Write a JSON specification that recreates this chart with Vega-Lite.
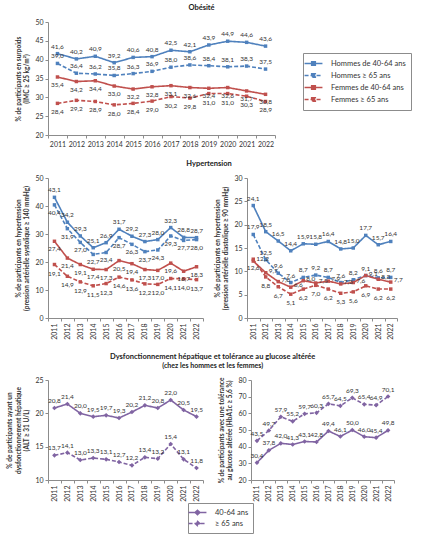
{
"$schema":"https://vega.github.io/schema/vega-lite/v6.json",
"padding":{"left":6,"top":3,"right":5,"bottom":5},
"config":{
 "font":"Lato",
 "locale":{"number":{"decimal":",","thousands":" ","grouping":[3],"currency":["","€"]}},
 "view":{"stroke":null},
 "axis":{"grid":false,"domainColor":"#8c8c8c","tickColor":"#8c8c8c","labelFontSize":7,"labelColor":"#333","titleFontSize":6.5,"titleFontWeight":"bold","titleColor":"#333","tickSize":3,"labelPadding":2,"titlePadding":5},
 "title":{"fontSize":7.5,"fontWeight":"bold","color":"#222","offset":7},
 "legend":{"labelFontSize":7.5,"labelColor":"#333"},
 "text":{"fontSize":6.5,"color":"#333"}
},
"datasets":{
"obesite":[
{"annee":"2011","groupe":"Hommes de 40-64 ans","valeur":41.6},{"annee":"2012","groupe":"Hommes de 40-64 ans","valeur":40.2},{"annee":"2013","groupe":"Hommes de 40-64 ans","valeur":40.9},{"annee":"2014","groupe":"Hommes de 40-64 ans","valeur":39.2},{"annee":"2015","groupe":"Hommes de 40-64 ans","valeur":40.6},{"annee":"2016","groupe":"Hommes de 40-64 ans","valeur":40.8},{"annee":"2017","groupe":"Hommes de 40-64 ans","valeur":42.5},{"annee":"2018","groupe":"Hommes de 40-64 ans","valeur":42.1},{"annee":"2019","groupe":"Hommes de 40-64 ans","valeur":43.9},{"annee":"2020","groupe":"Hommes de 40-64 ans","valeur":44.9},{"annee":"2021","groupe":"Hommes de 40-64 ans","valeur":44.6},{"annee":"2022","groupe":"Hommes de 40-64 ans","valeur":43.6},
{"annee":"2011","groupe":"Hommes ≥ 65 ans","valeur":39.0},{"annee":"2012","groupe":"Hommes ≥ 65 ans","valeur":36.4},{"annee":"2013","groupe":"Hommes ≥ 65 ans","valeur":36.2},{"annee":"2014","groupe":"Hommes ≥ 65 ans","valeur":35.8},{"annee":"2015","groupe":"Hommes ≥ 65 ans","valeur":36.3},{"annee":"2016","groupe":"Hommes ≥ 65 ans","valeur":36.9},{"annee":"2017","groupe":"Hommes ≥ 65 ans","valeur":38.0},{"annee":"2018","groupe":"Hommes ≥ 65 ans","valeur":38.6},{"annee":"2019","groupe":"Hommes ≥ 65 ans","valeur":38.4},{"annee":"2020","groupe":"Hommes ≥ 65 ans","valeur":38.1},{"annee":"2021","groupe":"Hommes ≥ 65 ans","valeur":38.3},{"annee":"2022","groupe":"Hommes ≥ 65 ans","valeur":37.5},
{"annee":"2011","groupe":"Femmes de 40-64 ans","valeur":35.4},{"annee":"2012","groupe":"Femmes de 40-64 ans","valeur":34.2},{"annee":"2013","groupe":"Femmes de 40-64 ans","valeur":34.4},{"annee":"2014","groupe":"Femmes de 40-64 ans","valeur":33.0},{"annee":"2015","groupe":"Femmes de 40-64 ans","valeur":32.2},{"annee":"2016","groupe":"Femmes de 40-64 ans","valeur":32.8},{"annee":"2017","groupe":"Femmes de 40-64 ans","valeur":33.1},{"annee":"2018","groupe":"Femmes de 40-64 ans","valeur":32.6},{"annee":"2019","groupe":"Femmes de 40-64 ans","valeur":32.4},{"annee":"2020","groupe":"Femmes de 40-64 ans","valeur":32.6},{"annee":"2021","groupe":"Femmes de 40-64 ans","valeur":31.7},{"annee":"2022","groupe":"Femmes de 40-64 ans","valeur":30.8},
{"annee":"2011","groupe":"Femmes ≥ 65 ans","valeur":28.4},{"annee":"2012","groupe":"Femmes ≥ 65 ans","valeur":29.2},{"annee":"2013","groupe":"Femmes ≥ 65 ans","valeur":28.9},{"annee":"2014","groupe":"Femmes ≥ 65 ans","valeur":28.0},{"annee":"2015","groupe":"Femmes ≥ 65 ans","valeur":28.4},{"annee":"2016","groupe":"Femmes ≥ 65 ans","valeur":29.0},{"annee":"2017","groupe":"Femmes ≥ 65 ans","valeur":30.2},{"annee":"2018","groupe":"Femmes ≥ 65 ans","valeur":29.8},{"annee":"2019","groupe":"Femmes ≥ 65 ans","valeur":31.0},{"annee":"2020","groupe":"Femmes ≥ 65 ans","valeur":31.0},{"annee":"2021","groupe":"Femmes ≥ 65 ans","valeur":30.3},{"annee":"2022","groupe":"Femmes ≥ 65 ans","valeur":28.9}
],
"systolique":[
{"annee":"2011","groupe":"Hommes de 40-64 ans","valeur":43.1},{"annee":"2012","groupe":"Hommes de 40-64 ans","valeur":34.2},{"annee":"2013","groupe":"Hommes de 40-64 ans","valeur":29.3},{"annee":"2014","groupe":"Hommes de 40-64 ans","valeur":25.1},{"annee":"2015","groupe":"Hommes de 40-64 ans","valeur":26.9},{"annee":"2016","groupe":"Hommes de 40-64 ans","valeur":31.7},{"annee":"2017","groupe":"Hommes de 40-64 ans","valeur":29.2},{"annee":"2018","groupe":"Hommes de 40-64 ans","valeur":27.3},{"annee":"2019","groupe":"Hommes de 40-64 ans","valeur":28.0},{"annee":"2020","groupe":"Hommes de 40-64 ans","valeur":32.3},{"annee":"2021","groupe":"Hommes de 40-64 ans","valeur":28.8},{"annee":"2022","groupe":"Hommes de 40-64 ans","valeur":28.7},
{"annee":"2011","groupe":"Hommes ≥ 65 ans","valeur":40.4},{"annee":"2012","groupe":"Hommes ≥ 65 ans","valeur":31.9},{"annee":"2013","groupe":"Hommes ≥ 65 ans","valeur":27.0},{"annee":"2014","groupe":"Hommes ≥ 65 ans","valeur":22.7},{"annee":"2015","groupe":"Hommes ≥ 65 ans","valeur":23.4},{"annee":"2016","groupe":"Hommes ≥ 65 ans","valeur":28.7},{"annee":"2017","groupe":"Hommes ≥ 65 ans","valeur":26.3},{"annee":"2018","groupe":"Hommes ≥ 65 ans","valeur":23.7},{"annee":"2019","groupe":"Hommes ≥ 65 ans","valeur":24.3},{"annee":"2020","groupe":"Hommes ≥ 65 ans","valeur":29.3},{"annee":"2021","groupe":"Hommes ≥ 65 ans","valeur":27.7},{"annee":"2022","groupe":"Hommes ≥ 65 ans","valeur":28.0},
{"annee":"2011","groupe":"Femmes de 40-64 ans","valeur":27.4},{"annee":"2012","groupe":"Femmes de 40-64 ans","valeur":21.4},{"annee":"2013","groupe":"Femmes de 40-64 ans","valeur":19.1},{"annee":"2014","groupe":"Femmes de 40-64 ans","valeur":17.4},{"annee":"2015","groupe":"Femmes de 40-64 ans","valeur":17.3},{"annee":"2016","groupe":"Femmes de 40-64 ans","valeur":20.5},{"annee":"2017","groupe":"Femmes de 40-64 ans","valeur":19.4},{"annee":"2018","groupe":"Femmes de 40-64 ans","valeur":17.3},{"annee":"2019","groupe":"Femmes de 40-64 ans","valeur":17.0},{"annee":"2020","groupe":"Femmes de 40-64 ans","valeur":19.6},{"annee":"2021","groupe":"Femmes de 40-64 ans","valeur":16.7},{"annee":"2022","groupe":"Femmes de 40-64 ans","valeur":18.3},
{"annee":"2011","groupe":"Femmes ≥ 65 ans","valeur":19.1},{"annee":"2012","groupe":"Femmes ≥ 65 ans","valeur":14.9},{"annee":"2013","groupe":"Femmes ≥ 65 ans","valeur":12.9},{"annee":"2014","groupe":"Femmes ≥ 65 ans","valeur":11.5},{"annee":"2015","groupe":"Femmes ≥ 65 ans","valeur":12.3},{"annee":"2016","groupe":"Femmes ≥ 65 ans","valeur":14.6},{"annee":"2017","groupe":"Femmes ≥ 65 ans","valeur":13.6},{"annee":"2018","groupe":"Femmes ≥ 65 ans","valeur":12.2},{"annee":"2019","groupe":"Femmes ≥ 65 ans","valeur":12.0},{"annee":"2020","groupe":"Femmes ≥ 65 ans","valeur":14.1},{"annee":"2021","groupe":"Femmes ≥ 65 ans","valeur":14.0},{"annee":"2022","groupe":"Femmes ≥ 65 ans","valeur":13.7}
],
"diastolique":[
{"annee":"2011","groupe":"Hommes de 40-64 ans","valeur":24.1},{"annee":"2012","groupe":"Hommes de 40-64 ans","valeur":18.5},{"annee":"2013","groupe":"Hommes de 40-64 ans","valeur":16.5},{"annee":"2014","groupe":"Hommes de 40-64 ans","valeur":14.4},{"annee":"2015","groupe":"Hommes de 40-64 ans","valeur":15.9},{"annee":"2016","groupe":"Hommes de 40-64 ans","valeur":15.8},{"annee":"2017","groupe":"Hommes de 40-64 ans","valeur":16.4},{"annee":"2018","groupe":"Hommes de 40-64 ans","valeur":14.8},{"annee":"2019","groupe":"Hommes de 40-64 ans","valeur":15.0},{"annee":"2020","groupe":"Hommes de 40-64 ans","valeur":17.7},{"annee":"2021","groupe":"Hommes de 40-64 ans","valeur":15.7},{"annee":"2022","groupe":"Hommes de 40-64 ans","valeur":16.4},
{"annee":"2011","groupe":"Hommes ≥ 65 ans","valeur":17.9},{"annee":"2012","groupe":"Hommes ≥ 65 ans","valeur":12.5},{"annee":"2013","groupe":"Hommes ≥ 65 ans","valeur":9.6},{"annee":"2014","groupe":"Hommes ≥ 65 ans","valeur":7.6},{"annee":"2015","groupe":"Hommes ≥ 65 ans","valeur":8.7},{"annee":"2016","groupe":"Hommes ≥ 65 ans","valeur":9.2},{"annee":"2017","groupe":"Hommes ≥ 65 ans","valeur":8.7},{"annee":"2018","groupe":"Hommes ≥ 65 ans","valeur":7.6},{"annee":"2019","groupe":"Hommes ≥ 65 ans","valeur":8.2},{"annee":"2020","groupe":"Hommes ≥ 65 ans","valeur":9.1},{"annee":"2021","groupe":"Hommes ≥ 65 ans","valeur":8.6},{"annee":"2022","groupe":"Hommes ≥ 65 ans","valeur":8.7},
{"annee":"2011","groupe":"Femmes de 40-64 ans","valeur":12.2},{"annee":"2012","groupe":"Femmes de 40-64 ans","valeur":9.7},{"annee":"2013","groupe":"Femmes de 40-64 ans","valeur":7.8},{"annee":"2014","groupe":"Femmes de 40-64 ans","valeur":6.6},{"annee":"2015","groupe":"Femmes de 40-64 ans","valeur":8.0},{"annee":"2016","groupe":"Femmes de 40-64 ans","valeur":7.5},{"annee":"2017","groupe":"Femmes de 40-64 ans","valeur":7.9},{"annee":"2018","groupe":"Femmes de 40-64 ans","valeur":7.3},{"annee":"2019","groupe":"Femmes de 40-64 ans","valeur":7.6},{"annee":"2020","groupe":"Femmes de 40-64 ans","valeur":9.1},{"annee":"2021","groupe":"Femmes de 40-64 ans","valeur":8.3},{"annee":"2022","groupe":"Femmes de 40-64 ans","valeur":7.7},
{"annee":"2011","groupe":"Femmes ≥ 65 ans","valeur":12.6},{"annee":"2012","groupe":"Femmes ≥ 65 ans","valeur":8.8},{"annee":"2013","groupe":"Femmes ≥ 65 ans","valeur":6.7},{"annee":"2014","groupe":"Femmes ≥ 65 ans","valeur":5.1},{"annee":"2015","groupe":"Femmes ≥ 65 ans","valeur":6.2},{"annee":"2016","groupe":"Femmes ≥ 65 ans","valeur":7.0},{"annee":"2017","groupe":"Femmes ≥ 65 ans","valeur":6.2},{"annee":"2018","groupe":"Femmes ≥ 65 ans","valeur":5.3},{"annee":"2019","groupe":"Femmes ≥ 65 ans","valeur":5.6},{"annee":"2020","groupe":"Femmes ≥ 65 ans","valeur":6.9},{"annee":"2021","groupe":"Femmes ≥ 65 ans","valeur":6.2},{"annee":"2022","groupe":"Femmes ≥ 65 ans","valeur":6.2}
],
"alt":[
{"annee":"2011","groupe":"40-64 ans","valeur":20.8},{"annee":"2012","groupe":"40-64 ans","valeur":21.4},{"annee":"2013","groupe":"40-64 ans","valeur":20.0},{"annee":"2014","groupe":"40-64 ans","valeur":19.5},{"annee":"2015","groupe":"40-64 ans","valeur":19.7},{"annee":"2016","groupe":"40-64 ans","valeur":19.3},{"annee":"2017","groupe":"40-64 ans","valeur":20.2},{"annee":"2018","groupe":"40-64 ans","valeur":21.2},{"annee":"2019","groupe":"40-64 ans","valeur":20.8},{"annee":"2020","groupe":"40-64 ans","valeur":22.0},{"annee":"2021","groupe":"40-64 ans","valeur":20.5},{"annee":"2022","groupe":"40-64 ans","valeur":19.5},
{"annee":"2011","groupe":"≥ 65 ans","valeur":13.7},{"annee":"2012","groupe":"≥ 65 ans","valeur":14.1},{"annee":"2013","groupe":"≥ 65 ans","valeur":13.0},{"annee":"2014","groupe":"≥ 65 ans","valeur":13.3},{"annee":"2015","groupe":"≥ 65 ans","valeur":13.1},{"annee":"2016","groupe":"≥ 65 ans","valeur":12.7},{"annee":"2017","groupe":"≥ 65 ans","valeur":12.2},{"annee":"2018","groupe":"≥ 65 ans","valeur":13.4},{"annee":"2019","groupe":"≥ 65 ans","valeur":13.2},{"annee":"2020","groupe":"≥ 65 ans","valeur":15.4},{"annee":"2021","groupe":"≥ 65 ans","valeur":13.1},{"annee":"2022","groupe":"≥ 65 ans","valeur":11.8}
],
"hba1c":[
{"annee":"2011","groupe":"40-64 ans","valeur":30.4},{"annee":"2012","groupe":"40-64 ans","valeur":37.8},{"annee":"2013","groupe":"40-64 ans","valeur":42.0},{"annee":"2014","groupe":"40-64 ans","valeur":41.3},{"annee":"2015","groupe":"40-64 ans","valeur":43.1},{"annee":"2016","groupe":"40-64 ans","valeur":42.8},{"annee":"2017","groupe":"40-64 ans","valeur":49.4},{"annee":"2018","groupe":"40-64 ans","valeur":46.1},{"annee":"2019","groupe":"40-64 ans","valeur":50.0},{"annee":"2020","groupe":"40-64 ans","valeur":46.0},{"annee":"2021","groupe":"40-64 ans","valeur":45.4},{"annee":"2022","groupe":"40-64 ans","valeur":49.8},
{"annee":"2011","groupe":"≥ 65 ans","valeur":43.5},{"annee":"2012","groupe":"≥ 65 ans","valeur":49.7},{"annee":"2013","groupe":"≥ 65 ans","valeur":57.9},{"annee":"2014","groupe":"≥ 65 ans","valeur":55.2},{"annee":"2015","groupe":"≥ 65 ans","valeur":59.7},{"annee":"2016","groupe":"≥ 65 ans","valeur":60.3},{"annee":"2017","groupe":"≥ 65 ans","valeur":65.7},{"annee":"2018","groupe":"≥ 65 ans","valeur":64.5},{"annee":"2019","groupe":"≥ 65 ans","valeur":69.3},{"annee":"2020","groupe":"≥ 65 ans","valeur":65.4},{"annee":"2021","groupe":"≥ 65 ans","valeur":64.9},{"annee":"2022","groupe":"≥ 65 ans","valeur":70.1}
]
},
"resolve":{"scale":{"color":"independent","fill":"independent","strokeDash":"independent"},"legend":{"color":"independent","fill":"independent","strokeDash":"independent"}},
"spacing":12,
"vconcat":[
{
 "title":{"text":"Obésité","dx":40},
 "width":227,"height":113,
 "data":{"name":"obesite"},
 "encoding":{
  "x":{"field":"annee","type":"ordinal","title":null,"scale":{"type":"band","paddingInner":0,"paddingOuter":0},"axis":{"labelAngle":0,"tickBand":"extent"}},
  "y":{"field":"valeur","type":"quantitative","scale":{"domain":[20,50]},"axis":{"values":[20,25,30,35,40,45,50],"title":["% de participants en surpoids","(IMC ≥ 25 kg/m²)"]}}
 },
 "layer":[
  {"mark":{"type":"line","strokeWidth":1.6},"encoding":{
   "color":{"field":"groupe","type":"nominal","scale":{"domain":["Hommes de 40-64 ans","Hommes ≥ 65 ans","Femmes de 40-64 ans","Femmes ≥ 65 ans"],"range":["#4F81BD","#4F81BD","#C0504D","#C0504D"]},"legend":{"title":null,"orient":"none","legendX":255,"legendY":31,"symbolType":"M-2,0L2,0M-0.4,-0.4L0.4,-0.4L0.4,0.4L-0.4,0.4Z","symbolSize":80,"symbolStrokeWidth":1.6,"strokeColor":"#8c8c8c","padding":5,"rowPadding":1,"labelOffset":12}},
   "strokeDash":{"field":"groupe","type":"nominal","scale":{"domain":["Hommes de 40-64 ans","Hommes ≥ 65 ans","Femmes de 40-64 ans","Femmes ≥ 65 ans"],"range":[[1,0],[4,2],[1,0],[4,2]]},"legend":{"title":null,"orient":"none","legendX":255,"legendY":31,"symbolType":"M-2,0L2,0M-0.4,-0.4L0.4,-0.4L0.4,0.4L-0.4,0.4Z","symbolSize":80,"symbolStrokeWidth":1.6,"strokeColor":"#8c8c8c","padding":5,"rowPadding":1,"labelOffset":12}}
  }},
  {"mark":{"type":"point","shape":"square","filled":true,"size":12,"opacity":1},"encoding":{
   "fill":{"field":"groupe","type":"nominal","scale":{"domain":["Hommes de 40-64 ans","Hommes ≥ 65 ans","Femmes de 40-64 ans","Femmes ≥ 65 ans"],"range":["#4F81BD","#4F81BD","#C0504D","#C0504D"]},"legend":{"title":null,"orient":"none","legendX":255,"legendY":31,"symbolType":"M-2,0L2,0M-0.4,-0.4L0.4,-0.4L0.4,0.4L-0.4,0.4Z","symbolSize":80,"symbolStrokeWidth":1.6,"strokeColor":"#8c8c8c","padding":5,"rowPadding":1,"labelOffset":12}}
  }},
  {"transform":[{"filter":"datum.groupe==='Hommes de 40-64 ans'"}],"mark":{"type":"text","dy":-7},"encoding":{"text":{"field":"valeur","type":"quantitative","format":".1f"}}},
  {"transform":[{"filter":"datum.groupe==='Hommes ≥ 65 ans'"}],"mark":{"type":"text","dy":-7},"encoding":{"text":{"field":"valeur","type":"quantitative","format":".1f"}}},
  {"transform":[{"filter":"datum.groupe==='Femmes de 40-64 ans'"}],"mark":{"type":"text","dy":8},"encoding":{"text":{"field":"valeur","type":"quantitative","format":".1f"}}},
  {"transform":[{"filter":"datum.groupe==='Femmes ≥ 65 ans'"}],"mark":{"type":"text","dy":9},"encoding":{"text":{"field":"valeur","type":"quantitative","format":".1f"}}}
 ]
},
{
 "title":{"text":"Hypertension","anchor":"middle"},
 "spacing":10,
 "hconcat":[
  {
   "width":155,"height":140,
   "data":{"name":"systolique"},
   "encoding":{
    "x":{"field":"annee","type":"ordinal","title":null,"scale":{"type":"band","paddingInner":0,"paddingOuter":0},"axis":{"labelAngle":-90,"tickBand":"extent"}},
    "y":{"field":"valeur","type":"quantitative","scale":{"domain":[0,50]},"axis":{"values":[0,10,20,30,40,50],"title":["% de participants en hypertension","(pression artérielle systolique ≥ 140 mmHg)"]}}
   },
   "layer":[
    {"mark":{"type":"line","strokeWidth":1.6},"encoding":{
     "color":{"field":"groupe","type":"nominal","scale":{"domain":["Hommes de 40-64 ans","Hommes ≥ 65 ans","Femmes de 40-64 ans","Femmes ≥ 65 ans"],"range":["#4F81BD","#4F81BD","#C0504D","#C0504D"]},"legend":null},
     "strokeDash":{"field":"groupe","type":"nominal","scale":{"domain":["Hommes de 40-64 ans","Hommes ≥ 65 ans","Femmes de 40-64 ans","Femmes ≥ 65 ans"],"range":[[1,0],[4,2],[1,0],[4,2]]},"legend":null}
    }},
    {"mark":{"type":"point","shape":"square","filled":true,"size":12,"opacity":1},"encoding":{
     "fill":{"field":"groupe","type":"nominal","scale":{"domain":["Hommes de 40-64 ans","Hommes ≥ 65 ans","Femmes de 40-64 ans","Femmes ≥ 65 ans"],"range":["#4F81BD","#4F81BD","#C0504D","#C0504D"]},"legend":null}
    }},
    {"transform":[{"filter":"datum.groupe==='Hommes de 40-64 ans'"}],"mark":{"type":"text","dy":-7},"encoding":{"text":{"field":"valeur","type":"quantitative","format":".1f"}}},
    {"transform":[{"filter":"datum.groupe==='Hommes ≥ 65 ans'"}],"mark":{"type":"text","dy":8},"encoding":{"text":{"field":"valeur","type":"quantitative","format":".1f"}}},
    {"transform":[{"filter":"datum.groupe==='Femmes de 40-64 ans'"}],"mark":{"type":"text","dy":8},"encoding":{"text":{"field":"valeur","type":"quantitative","format":".1f"}}},
    {"transform":[{"filter":"datum.groupe==='Femmes ≥ 65 ans'"}],"mark":{"type":"text","dy":9},"encoding":{"text":{"field":"valeur","type":"quantitative","format":".1f"}}}
   ]
  },
  {
   "width":150,"height":140,
   "data":{"name":"diastolique"},
   "encoding":{
    "x":{"field":"annee","type":"ordinal","title":null,"scale":{"type":"band","paddingInner":0,"paddingOuter":0},"axis":{"labelAngle":-90,"tickBand":"extent"}},
    "y":{"field":"valeur","type":"quantitative","scale":{"domain":[0,30]},"axis":{"values":[0,5,10,15,20,25,30],"title":["% de participants en hypertension","(pression artérielle diastolique ≥ 90 mmHg)"]}}
   },
   "layer":[
    {"mark":{"type":"line","strokeWidth":1.6},"encoding":{
     "color":{"field":"groupe","type":"nominal","scale":{"domain":["Hommes de 40-64 ans","Hommes ≥ 65 ans","Femmes de 40-64 ans","Femmes ≥ 65 ans"],"range":["#4F81BD","#4F81BD","#C0504D","#C0504D"]},"legend":null},
     "strokeDash":{"field":"groupe","type":"nominal","scale":{"domain":["Hommes de 40-64 ans","Hommes ≥ 65 ans","Femmes de 40-64 ans","Femmes ≥ 65 ans"],"range":[[1,0],[4,2],[1,0],[4,2]]},"legend":null}
    }},
    {"mark":{"type":"point","shape":"square","filled":true,"size":12,"opacity":1},"encoding":{
     "fill":{"field":"groupe","type":"nominal","scale":{"domain":["Hommes de 40-64 ans","Hommes ≥ 65 ans","Femmes de 40-64 ans","Femmes ≥ 65 ans"],"range":["#4F81BD","#4F81BD","#C0504D","#C0504D"]},"legend":null}
    }},
    {"transform":[{"filter":"datum.groupe==='Hommes de 40-64 ans'"}],"mark":{"type":"text","dy":-7},"encoding":{"text":{"field":"valeur","type":"quantitative","format":".1f"}}},
    {"transform":[{"filter":"datum.groupe==='Hommes ≥ 65 ans'"}],"mark":{"type":"text","dy":-7},"encoding":{"text":{"field":"valeur","type":"quantitative","format":".1f"}}},
    {"transform":[{"filter":"datum.groupe==='Femmes de 40-64 ans'"}],"mark":{"type":"text","dx":3,"dy":-2,"align":"left"},"encoding":{"text":{"field":"valeur","type":"quantitative","format":".1f"}}},
    {"transform":[{"filter":"datum.groupe==='Femmes ≥ 65 ans'"}],"mark":{"type":"text","dy":9},"encoding":{"text":{"field":"valeur","type":"quantitative","format":".1f"}}}
   ]
  }
 ]
},
{
 "title":{"text":"Dysfonctionnement hépatique et tolérance au glucose altérée","anchor":"middle","dx":12,"subtitle":"(chez les hommes et les femmes)","subtitleFontWeight":"bold","subtitleFontSize":7,"subtitleColor":"#222","subtitlePadding":2},
 "spacing":14,
 "hconcat":[
  {
   "width":155,"height":100,
   "data":{"name":"alt"},
   "encoding":{
    "x":{"field":"annee","type":"ordinal","title":null,"scale":{"type":"band","paddingInner":0,"paddingOuter":0},"axis":{"labelAngle":-90,"tickBand":"extent"}},
    "y":{"field":"valeur","type":"quantitative","scale":{"domain":[10,25]},"axis":{"values":[10,15,20,25],"title":["% de participants ayant un","dysfonctionnement hépatique","(ALT ≥ 31 U/L)"]}}
   },
   "layer":[
    {"mark":{"type":"line","strokeWidth":1.6,"color":"#8064A2"},"encoding":{
     "strokeDash":{"field":"groupe","type":"nominal","scale":{"domain":["40-64 ans","≥ 65 ans"],"range":[[1,0],[4,2]]},"legend":{"title":null,"orient":"none","legendX":140,"legendY":123,"symbolType":"M-2,0L2,0M0,-0.5L0.5,0L0,0.5L-0.5,0Z","symbolSize":80,"symbolStrokeWidth":1.6,"symbolStrokeColor":"#8064A2","symbolFillColor":"#8064A2","strokeColor":"#8c8c8c","padding":4,"rowPadding":0,"labelOffset":12}}
    }},
    {"mark":{"type":"point","shape":"diamond","filled":true,"size":22,"opacity":1,"color":"#8064A2"}},
    {"mark":{"type":"text","dy":-7},"encoding":{"text":{"field":"valeur","type":"quantitative","format":".1f"}}}
   ]
  },
  {
   "width":143,"height":100,
   "data":{"name":"hba1c"},
   "encoding":{
    "x":{"field":"annee","type":"ordinal","title":null,"scale":{"type":"band","paddingInner":0,"paddingOuter":0},"axis":{"labelAngle":-90,"tickBand":"extent"}},
    "y":{"field":"valeur","type":"quantitative","scale":{"domain":[20,80]},"axis":{"values":[20,30,40,50,60,70,80],"title":["% de participants avec une tolérance","au glucose altérée (HbA1c ≥ 5,6 %)"]}}
   },
   "layer":[
    {"mark":{"type":"line","strokeWidth":1.6,"color":"#8064A2"},"encoding":{
     "strokeDash":{"field":"groupe","type":"nominal","scale":{"domain":["40-64 ans","≥ 65 ans"],"range":[[1,0],[4,2]]},"legend":null}
    }},
    {"mark":{"type":"point","shape":"diamond","filled":true,"size":22,"opacity":1,"color":"#8064A2"}},
    {"mark":{"type":"text","dy":-7},"encoding":{"text":{"field":"valeur","type":"quantitative","format":".1f"}}}
   ]
  }
 ]
}
]
}
